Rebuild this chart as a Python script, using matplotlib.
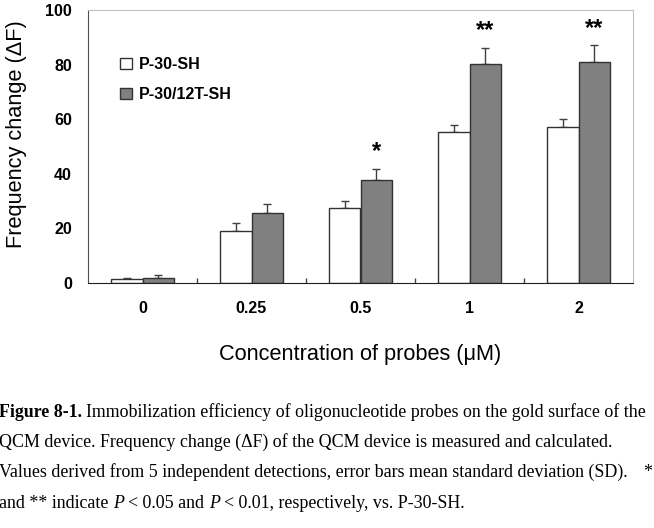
import numpy as np
import matplotlib
matplotlib.use("Agg")
from matplotlib import pyplot as plt
from matplotlib.patches import Patch

# data
conc = ['0', '0.25', '0.5', '1', '2']
p30 = [1.5, 19.2, 27.6, 55.2, 57.0]
p30_err = [0.3, 2.6, 2.3, 2.7, 3.1]
p30t = [2.0, 25.5, 37.6, 80.2, 80.9]
p30t_err = [1.1, 3.4, 4.2, 6.0, 6.2]
signif = ['', '', '*', '**', '**']
series_names = ['P-30-SH', 'P-30/12T-SH']

W, H = 654, 528
fig = plt.figure(figsize=(W / 100, H / 100), dpi=100)
ax = fig.add_axes([88 / W, 1 - 283 / H, 545 / W, 273 / H])

sans = 'Liberation Sans'
serif = 'Liberation Serif'
edge = '#333333'

x = np.arange(len(conc))
w = 0.285
ax.bar(x - w / 2, p30, w, color='white', edgecolor=edge, linewidth=1, zorder=2)
ax.bar(x + w / 2, p30t, w, color='#808080', edgecolor=edge, linewidth=1, zorder=2)
ax.errorbar(x - w / 2, p30, yerr=[np.zeros(len(x)), p30_err], fmt='none',
            ecolor='#404040', elinewidth=1, capsize=3, capthick=1, zorder=1)
ax.errorbar(x + w / 2, p30t, yerr=[np.zeros(len(x)), p30t_err], fmt='none',
            ecolor='#404040', elinewidth=1, capsize=3, capthick=1, zorder=1)

for i in range(len(x)):
    if signif[i]:
        ax.text(x[i] + w / 2, p30t[i] + p30t_err[i] + 3.8, signif[i],
                ha='center', va='baseline', fontsize=17, fontweight='bold',
                family=sans)

ax.set_xlim(-0.5, len(conc) - 0.5)
ax.set_ylim(0, 100)
ax.set_yticks(np.arange(0, 101, 20))
ax.set_yticklabels([str(v) for v in range(0, 101, 20)], fontsize=11.5,
                   fontweight='bold', family=sans)
ax.tick_params(axis='y', length=0, pad=11.5)

# tick marks between the groups, labels under the groups
ax.set_xticks(x[:-1] + 0.5)
ax.set_xticklabels([])
ax.set_xticks(x, minor=True)
ax.set_xticklabels(conc, minor=True, fontsize=11.5, fontweight='bold', family=sans)
ax.tick_params(axis='x', which='major', direction='in', length=3.5, width=1,
               color='#404040')
ax.tick_params(axis='x', which='minor', length=0, pad=13)

for s in ['top', 'right']:
    ax.spines[s].set_color('#c0c0c0')
ax.spines['left'].set_color('#505050')
ax.spines['bottom'].set_color('#202020')

ax.set_ylabel('Frequency change (\u0394F)', fontsize=15.7, family=sans)
ax.yaxis.set_label_coords(-0.112, 0.546)
ax.set_xlabel('Concentration of probes (\u03bcM)', fontsize=15.7, family=sans)
ax.xaxis.set_label_coords(0.5, -0.222)

handles = [Patch(facecolor='white', edgecolor=edge, linewidth=1),
           Patch(facecolor='#808080', edgecolor=edge, linewidth=1)]
ax.legend(handles, series_names, loc='upper left', bbox_to_anchor=(0.0587, 0.828),
          frameon=False, borderpad=0, borderaxespad=0, handlelength=0.75,
          handleheight=0.75, handletextpad=0.45, labelspacing=0.95,
          prop={'family': sans, 'weight': 'bold', 'size': 11.5})

# caption below the chart
cs = 12.9
renderer = fig.canvas.get_renderer()


def text_width(s, **kw):
    t = fig.text(0, 0, s, fontsize=cs, family=serif, **kw)
    wd = t.get_window_extent(renderer).width
    t.remove()
    return wd


space = text_width('a a') - text_width('aa')


def put_line(parts, x_px, base_px):
    for s, kw in parts:
        lead = len(s) - len(s.lstrip(' '))
        x_px += lead * space
        s = s.lstrip(' ')
        t = fig.text(x_px / W, 1 - base_px / H, s, fontsize=cs, family=serif,
                     va='baseline', ha='left', **kw)
        x_px += t.get_window_extent(renderer).width


put_line([('Figure 8-1.', {'fontweight': 'bold'}),
          (' Immobilization efficiency of oligonucleotide probes on the gold surface of the', {})],
         -1, 417)
put_line([('QCM device. Frequency change (\u0394F) of the QCM device is measured and calculated.', {})],
         -1, 447)
put_line([('Values derived from 5 independent detections, error bars mean standard deviation (SD).', {})],
         -1, 477)
fig.text(643 / W, 1 - 477 / H, '*', fontsize=cs, family=serif, va='baseline', ha='left')
put_line([('and ** indicate', {}), (' P', {'style': 'italic'}), (' < 0.05 and', {}),
          (' P', {'style': 'italic'}), (' < 0.01, respectively, vs. P-30-SH.', {})],
         -1, 508)

fig.savefig('out.png', dpi=100)
